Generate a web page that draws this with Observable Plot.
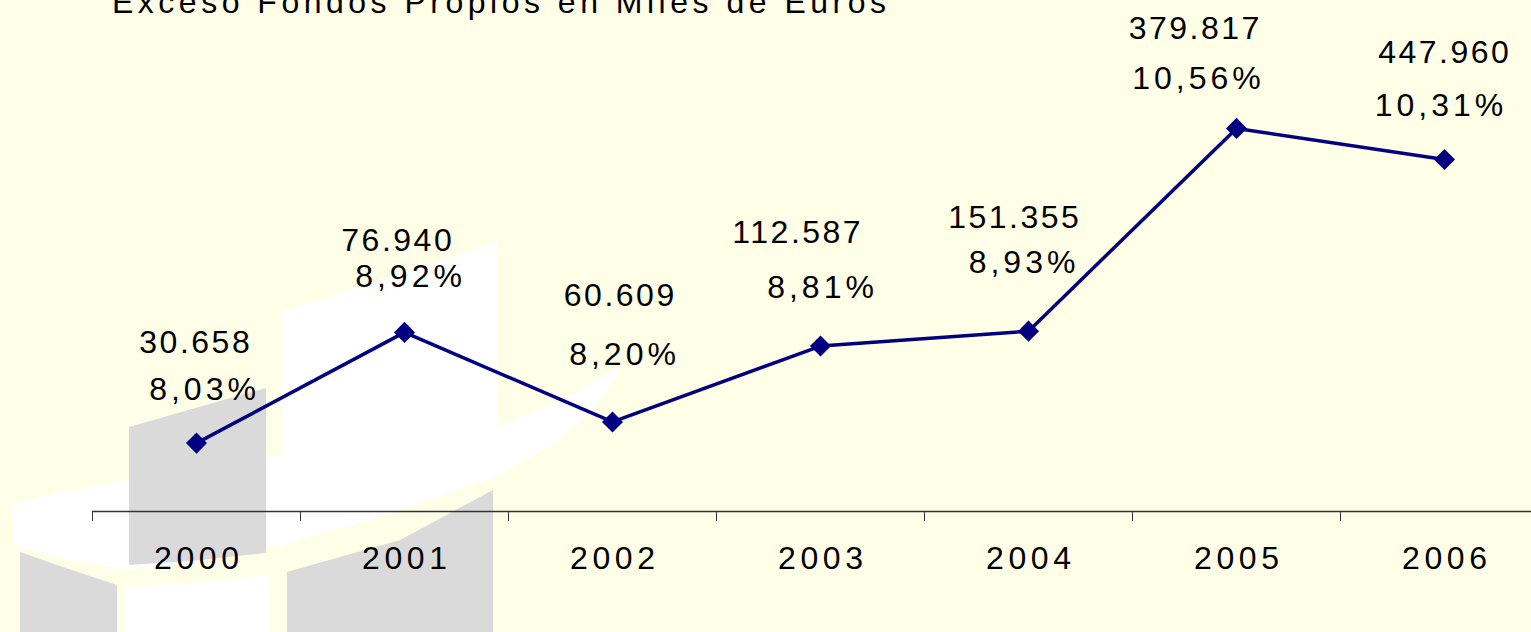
<!DOCTYPE html>
<html>
<head>
<meta charset="utf-8">
<script src="https://cdn.jsdelivr.net/npm/d3@7"></script>
<script src="https://cdn.jsdelivr.net/npm/@observablehq/plot@0.6"></script>
<style>
  html, body { margin: 0; padding: 0; background: #FFFFE7; overflow: hidden; }
  #wrap { position: relative; width: 1531px; height: 632px; overflow: hidden; background: #FFFFE7; }
  #wm, #chart { position: absolute; left: 0; top: 0; }
  #title { position: absolute; left: 112px; top: -14px; font: 32px "Liberation Sans", Arial, sans-serif;
           line-height: 32px; letter-spacing: 4.5px; white-space: nowrap; color: #000; }
</style>
</head>
<body>
<div id="wrap">
  <svg id="wm" width="1531" height="632" viewBox="0 0 1531 632">
    <!-- faded background logo (decoration) -->
    <path fill="#FFFFFF" d="M12,505 L60,492 L129,480 L200,468 L282,455 L400,440 L497,428 L560,400 L622,366
      L600,402 L560,440 L497,476 L400,510 L282,545 L200,562 L125,570 L60,558 L14,545 Z"/>
    <path fill="#FFFFFF" d="M282,312 L497,242 L497,476 L400,510 L282,545 Z"/>
    <path fill="#DADADA" d="M129,427 L266,388 L266,553 L200,560 L129,565 Z"/>
    <path fill="#DADADA" d="M20,552 L60,566 L117,585 L117,632 L20,632 Z"/>
    <path fill="#FFFFFF" d="M125,587 L200,582 L270,575 L270,632 L125,632 Z"/>
    <path fill="#DADADA" d="M287,572 L400,540 L493,490 L493,632 L287,632 Z"/>
  </svg>
  <div id="chart"></div>
  <div id="title">Exceso Fondos Propios en Miles de Euros</div>
</div>
<script>
// ---- data ----
const years = ["2000", "2001", "2002", "2003", "2004", "2005", "2006"];
const excessThousandEur = [30658, 76940, 60609, 112587, 151355, 379817, 447960];
const ratioPct = [8.03, 8.92, 8.20, 8.81, 8.93, 10.56, 10.31];

// ---- label placement (pixel offsets from each point, as placed in the original) ----
const valueLabelOffset = [[-2, -100], [-8, -92], [6.5, -126], [-24, -113], [-15, -113], [-42.5, -100], [-1, -107]];
const ratioLabelOffset = [[6, -53], [4, -56], [10, -67], [0, -58], [-6.5, -68], [-40, -50], [-5.5, -54]];
const spacing = {value: 2.5, ratio: 4, year: 4.6};

const rows = years.map((year, i) => ({i, year, excess: excessThousandEur[i], ratio: ratioPct[i]}));
const fmtThousands = v => String(v).replace(/\B(?=(\d{3})+(?!\d))/g, ".");
const fmtPct = v => v.toFixed(2).replace(".", ",") + "%";

const font = "Liberation Sans, Arial, sans-serif";
const yDomain = [7.48, 11.5];
const boundaries = d3.range(-0.5, years.length, 1);

const labelMarks = [];
rows.forEach((r, i) => {
  labelMarks.push(Plot.text([r], {
    x: "i", y: "ratio", text: d => fmtThousands(d.excess),
    dx: valueLabelOffset[i][0] + spacing.value / 2, dy: valueLabelOffset[i][1],
    fontSize: 32, fontFamily: font, fill: "#000", lineAnchor: "middle"
  }));
  labelMarks.push(Plot.text([r], {
    x: "i", y: "ratio", text: d => fmtPct(d.ratio),
    dx: ratioLabelOffset[i][0] + spacing.ratio / 2, dy: ratioLabelOffset[i][1],
    fontSize: 32, fontFamily: font, fill: "#000", lineAnchor: "middle"
  }));
});

const chart = Plot.plot({
  width: 1531,
  height: 632,
  marginTop: 11,
  marginBottom: 121,
  marginLeft: 92,
  marginRight: 0,
  style: {background: "transparent", color: "#333", overflow: "visible"},
  x: {domain: [-0.5, years.length - 0.5], range: [92, 1548], ticks: boundaries, tickSize: 10,
      tickFormat: () => "", label: null},
  y: {domain: yDomain, axis: null},
  marks: [
    Plot.ruleY([yDomain[0]], {stroke: "#333", strokeWidth: 1.5}),
    Plot.line(rows, {x: "i", y: "ratio", stroke: "#000080", strokeWidth: 3.5}),
    Plot.dot(rows, {x: "i", y: "ratio", symbol: "diamond2", r: 9.5, fill: "#000080", stroke: "none"}),
    ...labelMarks,
    Plot.text(rows, {x: "i", text: "year", frameAnchor: "bottom", dy: 47, lineAnchor: "middle",
                     dx: spacing.year / 2, fontSize: 32, fontFamily: font, fill: "#000"})
  ]
});

// letter spacing like the original (wide Excel-style text)
chart.querySelectorAll("text").forEach(t => {
  const s = t.textContent;
  if (!s) return;
  if (s.includes("%")) t.style.letterSpacing = spacing.ratio + "px";
  else if (years.includes(s)) t.style.letterSpacing = spacing.year + "px";
  else if (s.includes(".")) t.style.letterSpacing = spacing.value + "px";
});
document.getElementById("chart").appendChild(chart);
</script>
</body>
</html>
